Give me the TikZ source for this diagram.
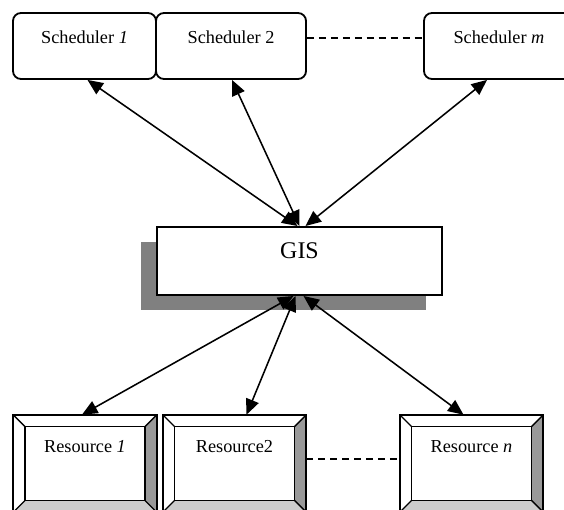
\documentclass[tikz,border=0pt]{standalone}
\usepackage{fontspec}
\setmainfont{Liberation Serif}
\usepackage{tikz}
\usetikzlibrary{arrows.meta,shadows}

\tikzset{
  sched/.style = {draw, line width=1.3pt, rounded corners=0.2cm, inner sep=0,
    minimum width=3.6cm, text height=0.775cm, text depth=0.875cm,
    font=\fontsize{13}{15}\selectfont},
  res/.style = {inner sep=0, minimum width=3.575cm, minimum height=2.425cm,
    text height=0.925cm, text depth=1.5cm, font=\fontsize{13}{15}\selectfont},
  gisbox/.style = {draw, line width=1.4pt, fill=white, inner sep=0,
    minimum width=7.125cm, text height=0.8cm, text depth=0.9cm,
    font=\fontsize{17}{19}\selectfont,
    drop shadow={shadow xshift=-0.4cm, shadow yshift=-0.375cm, fill=black!50, opacity=1}},
  conn/.style = {{Triangle[length=11pt,width=9.5pt]}-{Triangle[length=11pt,width=9.5pt]}, line width=1.1pt},
  dots/.style = {dash pattern=on 5pt off 3.5pt, line width=1.1pt},
  bevel/.style = {line width=1pt}
}

\begin{document}
\begin{tikzpicture}[x=0.025cm, y=-0.025cm]
\clip (0, 0) rectangle (564, 510);
\fill[white] (0, 0) rectangle (564, 510);

% schedulers
\node (s1) [sched, minimum width=3.575cm] at (84.5, 46) {Scheduler \textit{1}};
\node (s2) [sched, minimum width=3.75cm] at (231, 46) {Scheduler 2};
\node (s3) [sched, minimum width=3.75cm] at (499, 46) {Scheduler \textit{m}};
\draw [dots] ([shift={(0,-8)}]s2.east) to ([shift={(0,-8)}]s3.west);

\node (gis) [gisbox] at (299.5, 261) {GIS};

% resources
\node (r1) [res] at (85, 463.5) {Resource \textit{1}};
\node (r2) [res] at (234.5, 463.5) {Resource2};
\node (rn) [res] at (471.5, 463.5) {Resource \textit{n}};
\foreach \r in {r1, r2, rn}{
  \fill[black!40] (\r.north east) -- (\r.south east) -- ([shift={(-12,-12)}]\r.south east)
    -- ([shift={(-12,12)}]\r.north east) -- cycle;
  \fill[black!20] (\r.south west) -- (\r.south east) -- ([shift={(-12,-12)}]\r.south east)
    -- ([shift={(12,-12)}]\r.south west) -- cycle;
  \draw[bevel] ([shift={(12,12)}]\r.north west) rectangle ([shift={(-12,-12)}]\r.south east);
  \draw[bevel] (\r.north west) -- ++(12,12);
  \draw[bevel] (\r.north east) -- ++(-12,12);
  \draw[bevel] (\r.south west) -- ++(12,-12);
  \draw[bevel] (\r.south east) -- ++(-12,-12);
  \draw[line width=1.4pt] (\r.north west) rectangle (\r.south east);
}
\draw [dots] ([shift={(0,-4.5)}]r2.east) to ([shift={(0,-4.5)}]rn.west);

% links
\draw [conn] ([shift={(3,0)}]s1.south) to ([shift={(-2,0)}]gis.north);
\draw [conn] ([shift={(1,0)}]s2.south) to (gis.north);
\draw [conn] ([shift={(-12,0)}]s3.south) to ([shift={(6,0)}]gis.north);
\draw [conn] ([shift={(-6,0)}]gis.south) to ([shift={(-3,0)}]r1.north);
\draw [conn] ([shift={(-4,0)}]gis.south) to ([shift={(12,0)}]r2.north);
\draw [conn] ([shift={(4,0)}]gis.south) to ([shift={(-8,0)}]rn.north);
\end{tikzpicture}
\end{document}
